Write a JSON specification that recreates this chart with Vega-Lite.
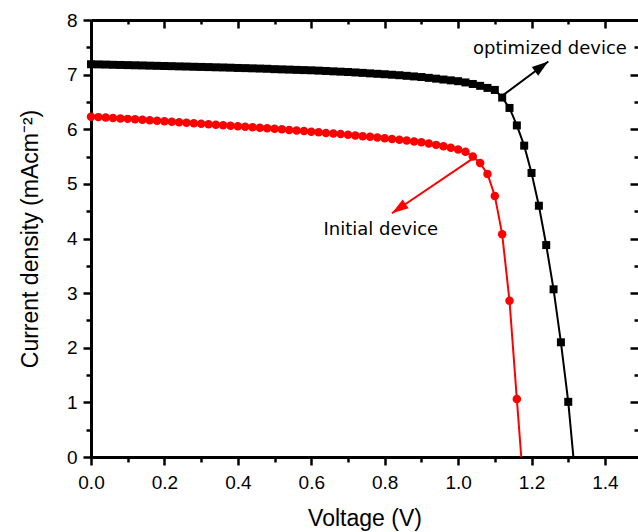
{
  "$schema": "https://vega.github.io/schema/vega-lite/v6.json",
  "width": 547,
  "height": 437,
  "autosize": {"type": "none"},
  "padding": {"left": 91, "top": 20, "right": 0, "bottom": 75},
  "background": "white",
  "config": {
    "view": {"stroke": null},
    "axis": {
      "grid": false,
      "domainColor": "black",
      "tickColor": "black",
      "labelColor": "black",
      "titleColor": "black",
      "labelFont": "Liberation Sans",
      "titleFont": "Liberation Sans",
      "titleFontWeight": "normal",
      "domainWidth": 3,
      "tickWidth": 2.5
    }
  },
  "datasets": {
    "curves": [
      {"device": "Initial device", "V": 0, "J": 6.23},
      {"device": "Initial device", "V": 0.02, "J": 6.222},
      {"device": "Initial device", "V": 0.04, "J": 6.214},
      {"device": "Initial device", "V": 0.06, "J": 6.206},
      {"device": "Initial device", "V": 0.08, "J": 6.198},
      {"device": "Initial device", "V": 0.1, "J": 6.19},
      {"device": "Initial device", "V": 0.12, "J": 6.181},
      {"device": "Initial device", "V": 0.14, "J": 6.173},
      {"device": "Initial device", "V": 0.16, "J": 6.165},
      {"device": "Initial device", "V": 0.18, "J": 6.156},
      {"device": "Initial device", "V": 0.2, "J": 6.147},
      {"device": "Initial device", "V": 0.22, "J": 6.139},
      {"device": "Initial device", "V": 0.24, "J": 6.13},
      {"device": "Initial device", "V": 0.26, "J": 6.121},
      {"device": "Initial device", "V": 0.28, "J": 6.112},
      {"device": "Initial device", "V": 0.3, "J": 6.102},
      {"device": "Initial device", "V": 0.32, "J": 6.093},
      {"device": "Initial device", "V": 0.34, "J": 6.084},
      {"device": "Initial device", "V": 0.36, "J": 6.074},
      {"device": "Initial device", "V": 0.38, "J": 6.065},
      {"device": "Initial device", "V": 0.4, "J": 6.055},
      {"device": "Initial device", "V": 0.42, "J": 6.046},
      {"device": "Initial device", "V": 0.44, "J": 6.037},
      {"device": "Initial device", "V": 0.46, "J": 6.027},
      {"device": "Initial device", "V": 0.48, "J": 6.018},
      {"device": "Initial device", "V": 0.5, "J": 6.008},
      {"device": "Initial device", "V": 0.52, "J": 5.998},
      {"device": "Initial device", "V": 0.54, "J": 5.987},
      {"device": "Initial device", "V": 0.56, "J": 5.976},
      {"device": "Initial device", "V": 0.58, "J": 5.966},
      {"device": "Initial device", "V": 0.6, "J": 5.955},
      {"device": "Initial device", "V": 0.62, "J": 5.944},
      {"device": "Initial device", "V": 0.64, "J": 5.933},
      {"device": "Initial device", "V": 0.66, "J": 5.922},
      {"device": "Initial device", "V": 0.68, "J": 5.911},
      {"device": "Initial device", "V": 0.7, "J": 5.9},
      {"device": "Initial device", "V": 0.72, "J": 5.887},
      {"device": "Initial device", "V": 0.74, "J": 5.874},
      {"device": "Initial device", "V": 0.76, "J": 5.861},
      {"device": "Initial device", "V": 0.78, "J": 5.848},
      {"device": "Initial device", "V": 0.8, "J": 5.835},
      {"device": "Initial device", "V": 0.82, "J": 5.821},
      {"device": "Initial device", "V": 0.84, "J": 5.807},
      {"device": "Initial device", "V": 0.86, "J": 5.792},
      {"device": "Initial device", "V": 0.88, "J": 5.776},
      {"device": "Initial device", "V": 0.9, "J": 5.76},
      {"device": "Initial device", "V": 0.92, "J": 5.737},
      {"device": "Initial device", "V": 0.94, "J": 5.714},
      {"device": "Initial device", "V": 0.96, "J": 5.689},
      {"device": "Initial device", "V": 0.98, "J": 5.66},
      {"device": "Initial device", "V": 1.0, "J": 5.63},
      {"device": "Initial device", "V": 1.02, "J": 5.59},
      {"device": "Initial device", "V": 1.04, "J": 5.5},
      {"device": "Initial device", "V": 1.06, "J": 5.38},
      {"device": "Initial device", "V": 1.08, "J": 5.18},
      {"device": "Initial device", "V": 1.1, "J": 4.78},
      {"device": "Initial device", "V": 1.12, "J": 4.08},
      {"device": "Initial device", "V": 1.14, "J": 2.86},
      {"device": "Initial device", "V": 1.16, "J": 1.06},
      {"device": "Initial device", "V": 1.172, "J": 0},
      {"device": "optimized device", "V": 0, "J": 7.19},
      {"device": "optimized device", "V": 0.02, "J": 7.187},
      {"device": "optimized device", "V": 0.04, "J": 7.184},
      {"device": "optimized device", "V": 0.06, "J": 7.18},
      {"device": "optimized device", "V": 0.08, "J": 7.177},
      {"device": "optimized device", "V": 0.1, "J": 7.174},
      {"device": "optimized device", "V": 0.12, "J": 7.171},
      {"device": "optimized device", "V": 0.14, "J": 7.168},
      {"device": "optimized device", "V": 0.16, "J": 7.164},
      {"device": "optimized device", "V": 0.18, "J": 7.161},
      {"device": "optimized device", "V": 0.2, "J": 7.158},
      {"device": "optimized device", "V": 0.22, "J": 7.155},
      {"device": "optimized device", "V": 0.24, "J": 7.151},
      {"device": "optimized device", "V": 0.26, "J": 7.148},
      {"device": "optimized device", "V": 0.28, "J": 7.144},
      {"device": "optimized device", "V": 0.3, "J": 7.141},
      {"device": "optimized device", "V": 0.32, "J": 7.138},
      {"device": "optimized device", "V": 0.34, "J": 7.134},
      {"device": "optimized device", "V": 0.36, "J": 7.131},
      {"device": "optimized device", "V": 0.38, "J": 7.127},
      {"device": "optimized device", "V": 0.4, "J": 7.122},
      {"device": "optimized device", "V": 0.42, "J": 7.119},
      {"device": "optimized device", "V": 0.44, "J": 7.115},
      {"device": "optimized device", "V": 0.46, "J": 7.111},
      {"device": "optimized device", "V": 0.48, "J": 7.107},
      {"device": "optimized device", "V": 0.5, "J": 7.1},
      {"device": "optimized device", "V": 0.52, "J": 7.096},
      {"device": "optimized device", "V": 0.54, "J": 7.092},
      {"device": "optimized device", "V": 0.56, "J": 7.087},
      {"device": "optimized device", "V": 0.58, "J": 7.083},
      {"device": "optimized device", "V": 0.6, "J": 7.079},
      {"device": "optimized device", "V": 0.62, "J": 7.073},
      {"device": "optimized device", "V": 0.64, "J": 7.067},
      {"device": "optimized device", "V": 0.66, "J": 7.06},
      {"device": "optimized device", "V": 0.68, "J": 7.054},
      {"device": "optimized device", "V": 0.7, "J": 7.048},
      {"device": "optimized device", "V": 0.72, "J": 7.04},
      {"device": "optimized device", "V": 0.74, "J": 7.032},
      {"device": "optimized device", "V": 0.76, "J": 7.023},
      {"device": "optimized device", "V": 0.78, "J": 7.015},
      {"device": "optimized device", "V": 0.8, "J": 7.007},
      {"device": "optimized device", "V": 0.82, "J": 6.998},
      {"device": "optimized device", "V": 0.84, "J": 6.989},
      {"device": "optimized device", "V": 0.86, "J": 6.978},
      {"device": "optimized device", "V": 0.88, "J": 6.967},
      {"device": "optimized device", "V": 0.9, "J": 6.956},
      {"device": "optimized device", "V": 0.92, "J": 6.941},
      {"device": "optimized device", "V": 0.94, "J": 6.926},
      {"device": "optimized device", "V": 0.96, "J": 6.91},
      {"device": "optimized device", "V": 0.98, "J": 6.895},
      {"device": "optimized device", "V": 1.0, "J": 6.88},
      {"device": "optimized device", "V": 1.02, "J": 6.857},
      {"device": "optimized device", "V": 1.04, "J": 6.829},
      {"device": "optimized device", "V": 1.06, "J": 6.795},
      {"device": "optimized device", "V": 1.08, "J": 6.757},
      {"device": "optimized device", "V": 1.1, "J": 6.72},
      {"device": "optimized device", "V": 1.12, "J": 6.58},
      {"device": "optimized device", "V": 1.14, "J": 6.39},
      {"device": "optimized device", "V": 1.16, "J": 6.07},
      {"device": "optimized device", "V": 1.18, "J": 5.7},
      {"device": "optimized device", "V": 1.2, "J": 5.2},
      {"device": "optimized device", "V": 1.22, "J": 4.6},
      {"device": "optimized device", "V": 1.24, "J": 3.88},
      {"device": "optimized device", "V": 1.26, "J": 3.07},
      {"device": "optimized device", "V": 1.28, "J": 2.1},
      {"device": "optimized device", "V": 1.3, "J": 1.01},
      {"device": "optimized device", "V": 1.314, "J": 0}
    ],
    "arrows": [
      {"device": "optimized device", "V": 1.1233, "J": 6.63, "V2": 1.2457, "J2": 7.24},
      {"device": "Initial device", "V": 1.0417, "J": 5.47, "V2": 0.8196, "J2": 4.463}
    ],
    "labels": [
      {"label": "optimized device", "V": 1.2503, "J": 7.375},
      {"label": "Initial device", "V": 0.7895, "J": 4.066}
    ]
  },
  "layer": [
    {
      "data": {"name": "curves"},
      "mark": {"type": "line", "strokeWidth": 2},
      "encoding": {
        "x": {
          "field": "V", "type": "quantitative",
          "scale": {"domain": [0, 1.49], "nice": false, "zero": false},
          "axis": {"orient": "bottom", "values": [0, 0.2, 0.4, 0.6, 0.8, 1.0, 1.2, 1.4], "format": ".1f", "labelFontSize": 19, "tickSize": 8, "labelPadding": 8, "labelFlush": false, "title": "Voltage (V)", "titleFontSize": 23, "titlePadding": 15}
        },
        "y": {
          "field": "J", "type": "quantitative",
          "scale": {"domain": [0, 8], "nice": false},
          "axis": {"orient": "left", "values": [0, 1, 2, 3, 4, 5, 6, 7, 8], "labelFontSize": 19, "tickSize": 8, "labelPadding": 6, "labelFlush": false, "title": "Current density (mAcm⁻²)", "titleFontSize": 23, "titlePadding": 24}
        },
        "color": {"field": "device", "type": "nominal", "scale": {"domain": ["Initial device", "optimized device"], "range": ["#ff0000", "#000000"]}, "legend": null}
      }
    },
    {
      "data": {"name": "curves"},
      "transform": [{"filter": "datum.J > 0"}],
      "mark": {"type": "point", "filled": true, "opacity": 1},
      "encoding": {
        "x": {"field": "V", "type": "quantitative", "axis": {"orient": "bottom", "values": [0.1, 0.3, 0.5, 0.7, 0.9, 1.1, 1.3], "labels": false, "domain": false, "tickSize": 5, "title": null}},
        "y": {"field": "J", "type": "quantitative", "axis": {"orient": "left", "values": [0.5, 1.5, 2.5, 3.5, 4.5, 5.5, 6.5, 7.5], "labels": false, "domain": false, "tickSize": 5, "title": null}},
        "color": {"field": "device", "type": "nominal", "legend": null},
        "shape": {"field": "device", "type": "nominal", "scale": {"domain": ["Initial device", "optimized device"], "range": ["circle", "square"]}, "legend": null},
        "size": {"field": "device", "type": "nominal", "scale": {"domain": ["Initial device", "optimized device"], "range": [72, 64]}, "legend": null}
      }
    },
    {
      "data": {"name": "arrows"},
      "mark": {"type": "rule", "strokeWidth": 2},
      "encoding": {
        "x": {"field": "V", "type": "quantitative", "axis": {"orient": "top", "values": [0, 0.2, 0.4, 0.6, 0.8, 1.0, 1.2, 1.4], "labels": false, "domain": true, "tickSize": -8, "title": null}},
        "y": {"field": "J", "type": "quantitative", "axis": {"orient": "right", "values": [0, 1, 2, 3, 4, 5, 6, 7, 8], "labels": false, "domain": false, "tickSize": -8, "title": null}},
        "x2": {"field": "V2"},
        "y2": {"field": "J2"},
        "color": {"field": "device", "type": "nominal", "legend": null}
      }
    },
    {
      "data": {"name": "arrows"},
      "transform": [{"filter": "datum.device == 'optimized device'"}],
      "mark": {"type": "point", "shape": "M0,0L0.32,1L-0.32,1Z", "filled": true, "opacity": 1, "size": 1100, "angle": 53.5, "color": "#000000"},
      "encoding": {
        "x": {"field": "V2", "type": "quantitative", "axis": {"orient": "top", "values": [0.1, 0.3, 0.5, 0.7, 0.9, 1.1, 1.3], "labels": false, "domain": false, "tickSize": -4, "title": null}},
        "y": {"field": "J2", "type": "quantitative", "axis": {"orient": "right", "values": [0.5, 1.5, 2.5, 3.5, 4.5, 5.5, 6.5, 7.5], "labels": false, "domain": false, "tickSize": -4, "title": null}}
      }
    },
    {
      "data": {"name": "arrows"},
      "transform": [{"filter": "datum.device == 'Initial device'"}],
      "mark": {"type": "point", "shape": "M0,0L0.32,1L-0.32,1Z", "filled": true, "opacity": 1, "size": 1100, "angle": 236, "color": "#ff0000"},
      "encoding": {
        "x": {"field": "V2", "type": "quantitative", "axis": null},
        "y": {"field": "J2", "type": "quantitative", "axis": null}
      }
    },
    {
      "data": {"name": "labels"},
      "mark": {"type": "text", "font": "DejaVu Sans", "fontSize": 18, "color": "#000000", "align": "center", "baseline": "alphabetic"},
      "encoding": {
        "x": {"field": "V", "type": "quantitative", "axis": null},
        "y": {"field": "J", "type": "quantitative", "axis": null},
        "text": {"field": "label"}
      }
    }
  ],
  "resolve": {"axis": {"x": "independent", "y": "independent"}}
}
